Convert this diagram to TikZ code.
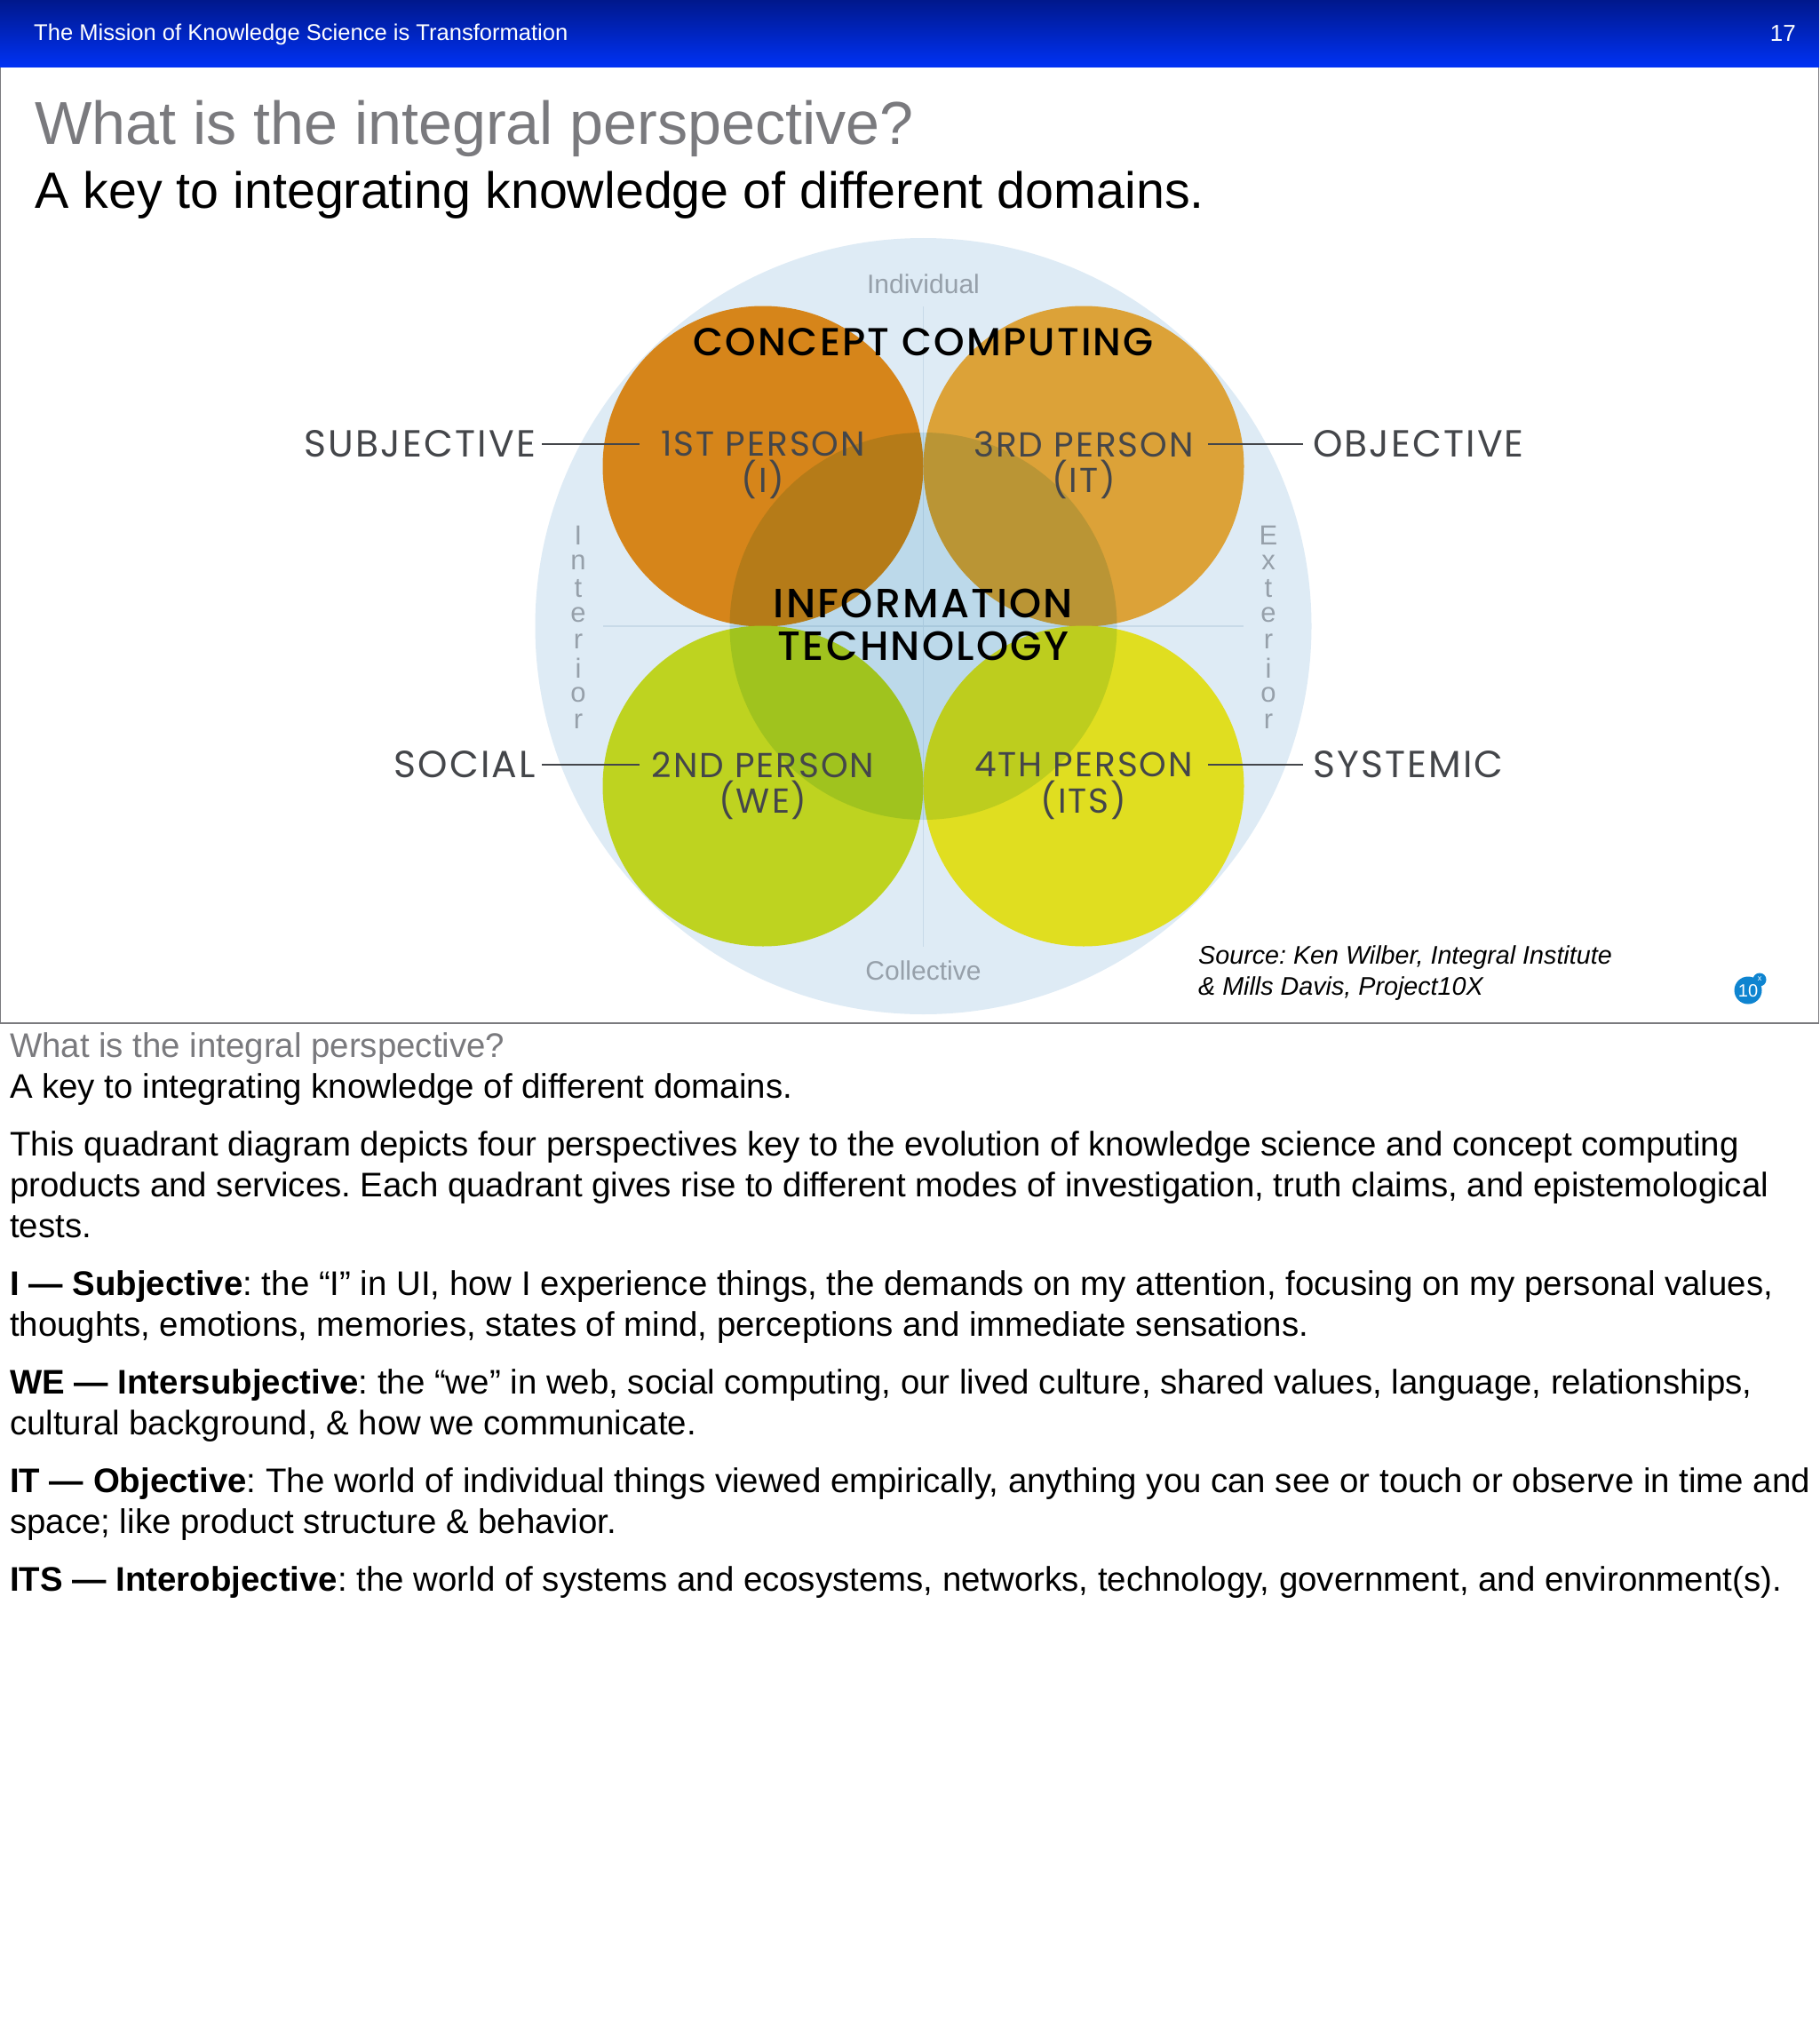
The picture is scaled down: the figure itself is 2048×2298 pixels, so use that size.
\documentclass[tikz,border=0pt]{standalone}
\usepackage{fontspec}
\setmainfont{Liberation Sans}
\newfontfamily\handfont[LetterSpace=5]{Poppins}
\newfontfamily\handbold[LetterSpace=5]{Poppins Medium}
\usepackage{xcolor}
\usetikzlibrary{positioning}
\frenchspacing

\definecolor{barTop}{RGB}{0,24,140}
\definecolor{barBottom}{RGB}{0,50,245}
\definecolor{discBlue}{RGB}{222,235,245}
\definecolor{ruleBlue}{RGB}{200,218,232}
\definecolor{orangeDisc}{RGB}{214,133,26}
\definecolor{goldDisc}{RGB}{220,162,56}
\definecolor{oliveDisc}{RGB}{190,211,32}
\definecolor{yellowDisc}{RGB}{224,222,32}
\definecolor{centreBlue}{RGB}{216,236,244}
\definecolor{titleGray}{RGB}{122,122,126}
\definecolor{axisGray}{RGB}{150,160,170}
\definecolor{handGray}{RGB}{68,70,74}
\definecolor{badgeBlue}{RGB}{14,132,208}

\tikzset{
  txt/.style={inner sep=0pt, anchor=base west},
  bodyline/.style={txt, font=\fontsize{38.4}{46}\selectfont},
  axislabel/.style={inner sep=0pt, text=axisGray, font=\fontsize{30}{36}\selectfont},
  sideletter/.style={inner sep=0pt, text=axisGray, font=\fontsize{31}{36}\selectfont},
  outerlabel/.style={inner sep=7pt, text=handGray, font=\handfont\fontsize{42.5}{50}\selectfont},
  personlabel/.style={inner sep=0pt, minimum width=278.6pt, text=handGray, font=\handfont\fontsize{39}{46}\selectfont},
  conceptlabel/.style={inner sep=0pt, text=black, font=\handbold\fontsize{44}{48}\selectfont},
  bigtech/.style={inner sep=0pt, text=black, font=\handbold\fontsize{46}{48}\selectfont},
  link/.style={draw=handGray, line width=2.4pt}
}

\begin{document}
\begin{tikzpicture}[x=1pt,y=-1pt]
  \useasboundingbox (0,0) rectangle (2048,2298);

  % header bar and slide frame
  \shade[top color=barTop, bottom color=barBottom] (0,0) rectangle (2048,76);
  \draw[titleGray, line width=1.5pt] (0.7,76) -- (0.7,1152) -- (2047.3,1152) -- (2047.3,76);
  \node[txt, text=white, font=\fontsize{25.55}{30}\selectfont] (header) at (38,46) {The Mission of Knowledge Science is Transformation};
  \node[txt, anchor=base east, text=white, font=\fontsize{26}{30}\selectfont] (pageno) at (2022,47) {17};

  \node[txt, text=titleGray, font=\fontsize{68.2}{76}\selectfont] (title) at (39,163) {What is the integral perspective?};
  \node[txt, text=black, font=\fontsize{57.4}{66}\selectfont] (subtitle) at (39,235) {A key to integrating knowledge of different domains.};

  % big disc with its two axes
  \fill[discBlue] (1039.5,705) circle (437);
  \draw[ruleBlue, line width=1.5pt] (1039.5,345) -- (1039.5,1066);
  \draw[ruleBlue, line width=1.5pt] (679,705) -- (1400,705);

  % four quadrant discs
  \foreach \xc/\yc/\col in {859/525/orangeDisc, 1220/525/goldDisc, 859/885/oliveDisc, 1220/885/yellowDisc} {
    \fill[\col] (\xc,\yc) circle (180.5);
  }

  % centre disc darkens what lies under it
  \begin{scope}[blend mode=multiply]
    \fill[centreBlue] (1039.5,705) circle (218);
  \end{scope}

  \node[axislabel] (individual) at (1039.5,320) {Individual};
  \node[axislabel] (collective) at (1039.5,1093) {Collective};

  % side words, one letter under the other
  \foreach \c [count=\k] in {I,n,t,e,r,i,o,r} {
    \node[sideletter] (int\k) at (651,573.5+\k*29.8) {\c};
  }
  \foreach \c [count=\k] in {E,x,t,e,r,i,o,r} {
    \node[sideletter] (ext\k) at (1428,573.5+\k*29.8) {\c};
  }

  \node[conceptlabel] (concept) at (1039.5,385) {CONCEPT COMPUTING};
  \node[bigtech, align=center] (infotech) at (1039.5,703) {INFORMATION\\TECHNOLOGY};

  % persons and what they stand for
  \node[personlabel] (first) at (859,500) {1ST PERSON};
  \node[personlabel] (firstsub) at (859,540) {(I)};
  \node[personlabel] (third) at (1220,500) {3RD PERSON};
  \node[personlabel] (thirdsub) at (1220,540) {(IT)};
  \node[personlabel] (second) at (859,861) {2ND PERSON};
  \node[personlabel] (secondsub) at (859,901) {(WE)};
  \node[personlabel] (fourth) at (1220,861) {4TH PERSON};
  \node[personlabel] (fourthsub) at (1220,901) {(ITS)};

  \node[outerlabel, anchor=east] (subjective) at (610,500) {SUBJECTIVE};
  \node[outerlabel, anchor=west, inner sep=11pt] (objective) at (1467,500) {OBJECTIVE};
  \node[outerlabel, anchor=east] (social) at (610,861) {SOCIAL};
  \node[outerlabel, anchor=west, inner sep=11pt] (systemic) at (1467,861) {SYSTEMIC};

  \draw[link] (subjective.east) -- (first.west);
  \draw[link] (objective.west) -- (third.east);
  \draw[link] (social.east) -- (second.west);
  \draw[link] (systemic.west) -- (fourth.east);

  \node[txt, font=\itshape\fontsize{28.7}{34}\selectfont] (source) at (1349,1085.5) {Source: Ken Wilber, Integral Institute};
  \node[txt, font=\itshape\fontsize{28.7}{34}\selectfont] (sourcetwo) at (1349,1120) {\& Mills Davis, Project10X};

  % little badge
  \fill[badgeBlue] (1968,1115) circle (15.5);
  \fill[badgeBlue] (1981,1103) circle (7.5);
  \node[inner sep=0pt, text=white, font=\fontsize{20}{22}\selectfont] (badgeten) at (1968,1116) {10};
  \node[inner sep=0pt, text=white, font=\fontsize{9}{10}\selectfont] (badgex) at (1981,1102) {x};

  % notes under the slide
  \node[bodyline, text=titleGray] (n1) at (11,1190) {What is the integral perspective?};
  \node[bodyline] (n2) at (11,1236) {A key to integrating knowledge of different domains.};
  \node[bodyline] (n3) at (11,1301) {This quadrant diagram depicts four perspectives key to the evolution of knowledge science and concept computing};
  \node[bodyline] (n4) at (11,1347) {products and services. Each quadrant gives rise to different modes of investigation, truth claims, and epistemological};
  \node[bodyline] (n5) at (11,1393) {tests.};
  \node[bodyline] (n6) at (11,1458) {\textbf{I — Subjective}: the “I” in UI, how I experience things, the demands on my attention, focusing on my personal values,};
  \node[bodyline] (n7) at (11,1504) {thoughts, emotions, memories, states of mind, perceptions and immediate sensations.};
  \node[bodyline] (n8) at (11,1569) {\textbf{WE — Intersubjective}: the “we” in web, social computing, our lived culture, shared values, language, relationships,};
  \node[bodyline] (n9) at (11,1615) {cultural background, \& how we communicate.};
  \node[bodyline] (n10) at (11,1680) {\textbf{IT — Objective}: The world of individual things viewed empirically, anything you can see or touch or observe in time and};
  \node[bodyline] (n11) at (11,1726) {space; like product structure \& behavior.};
  \node[bodyline] (n12) at (11,1791) {\textbf{ITS — Interobjective}: the world of systems and ecosystems, networks, technology, government, and environment(s).};
\end{tikzpicture}
\end{document}
